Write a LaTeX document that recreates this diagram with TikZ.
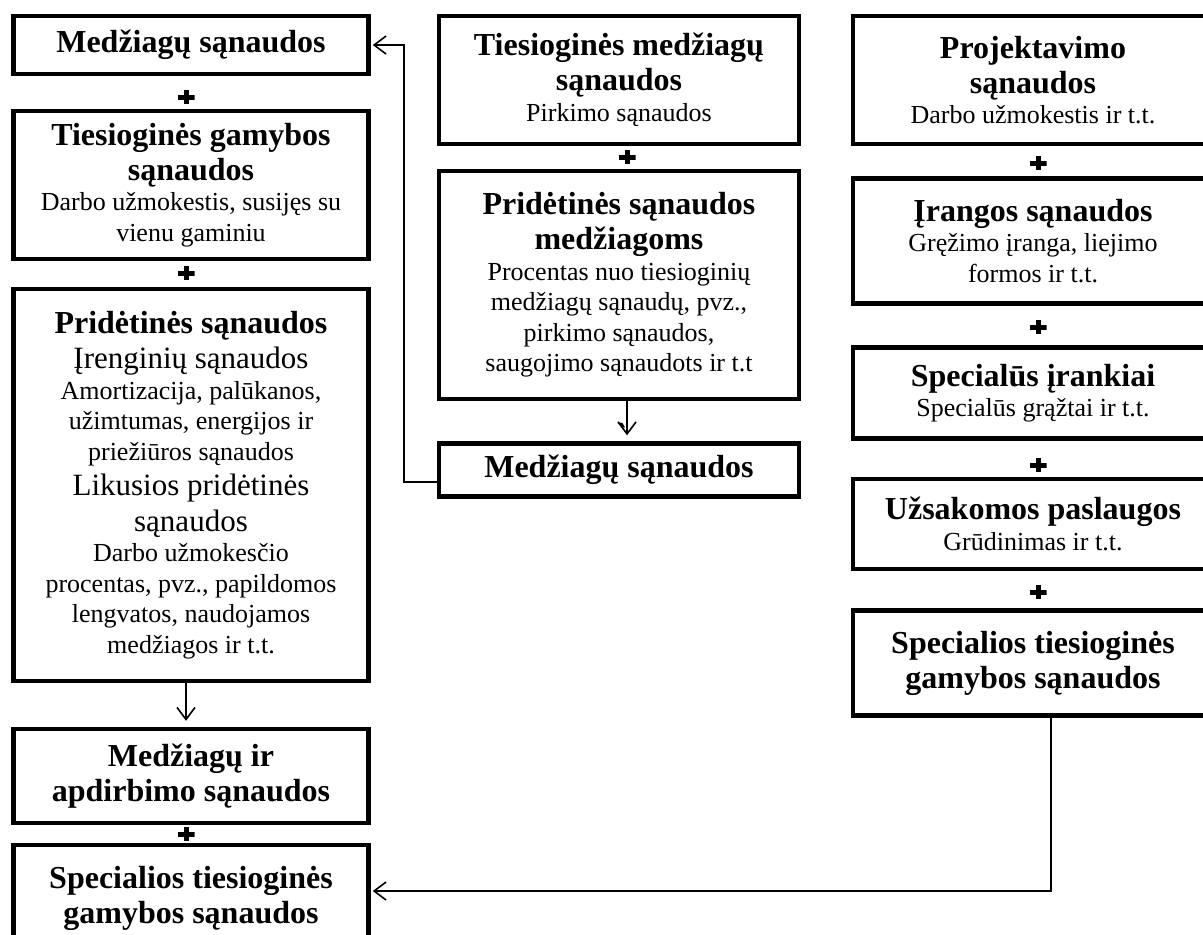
\documentclass[tikz,border=0pt]{standalone}
\usepackage{fontspec}
\setmainfont{Liberation Serif}
\usepackage{tikz}
\usetikzlibrary{arrows.meta, positioning}
\setlength{\parindent}{0pt}
\setlength{\parskip}{0pt}
\newcommand{\fixspace}{\spaceskip=\fontdimen2\font\xspaceskip=\fontdimen2\font\relax}
\newcommand{\boxhead}[1]{{\bfseries\fontsize{32}{35}\selectfont\fixspace #1\par}}
\newcommand{\boxmid}[1]{{\fontsize{31}{35.5}\selectfont\fixspace #1\par}}
\newcommand{\boxtext}[1]{{\fontsize{26}{30.5}\selectfont\fixspace #1\par}}

\begin{document}
\begin{tikzpicture}[x=1pt, y=-1pt,
  costbox/.style={draw=black, line width=4.5pt, fill=white, text width=340pt, align=center,
    minimum width=355pt, inner sep=0pt},
  plussign/.style={minimum width=17pt, minimum height=14pt, inner sep=0pt,
    path picture={\draw[line width=5pt] (path picture bounding box.north) -- (path picture bounding box.south)
      (path picture bounding box.west) -- (path picture bounding box.east);}},
  flow/.style={line width=1.6pt, -{Straight Barb[length=12pt, width=18pt, line width=1.6pt]}}]
  \useasboundingbox[fill=white] (0,0) rectangle (1203,935);

  % left column
  \node[costbox, minimum height=58pt] (matL) at (191,45) {\boxhead{Medžiagų sąnaudos}};
  \node[costbox, minimum height=148pt] (dirProd) at (191,185) {
    \boxhead{Tiesioginės gamybos\\ sąnaudos}
    \boxtext{Darbo užmokestis, susijęs su\\ vienu gaminiu}};
  \node[costbox, minimum height=392pt] (ovhProd) at (191,485) {
    \boxhead{Pridėtinės sąnaudos}
    \boxmid{Įrenginių sąnaudos}
    \boxtext{Amortizacija, palūkanos,\\ užimtumas, energijos ir\\ priežiūros sąnaudos}
    \boxmid{Likusios pridėtinės\\ sąnaudos}
    \boxtext{Darbo užmokesčio\\ procentas, pvz., papildomos\\ lengvatos, naudojamos\\ medžiagos ir t.t.}};
  \node[costbox, minimum height=94pt] (matProc) at (191,776) {\boxhead{Medžiagų ir\\ apdirbimo sąnaudos}};
  \node[costbox, minimum height=106pt] (specL) at (191,898) {\boxhead{Specialios tiesioginės\\ gamybos sąnaudos}};

  % middle column
  \node[costbox, minimum height=128pt, minimum width=360pt] (dirMat) at (619,80) {
    \boxhead{Tiesioginės medžiagų\\ sąnaudos}
    \boxtext{Pirkimo sąnaudos}};
  \node[costbox, minimum height=228pt, minimum width=360pt] (ovhMat) at (619,285) {
    \boxhead{Pridėtinės sąnaudos\\ medžiagoms}
    \boxtext{Procentas nuo tiesioginių\\ medžiagų sąnaudų, pvz.,\\ pirkimo sąnaudos,\\ saugojimo sąnaudots ir t.t}};
  \node[costbox, minimum height=53pt, minimum width=360pt] (matM) at (619,470) {\boxhead{Medžiagų sąnaudos}};
  \node[font=\bfseries\fontsize{32}{32}\selectfont, inner sep=0pt] (tick) at (622,434) {\textasciigrave};

  % right column
  \node[costbox, minimum height=128pt, minimum width=360pt] (design) at (1033,80) {
    \boxhead{Projektavimo\\ sąnaudos}
    \boxtext{Darbo užmokestis ir t.t.}};
  \node[costbox, minimum height=125pt, minimum width=360pt] (equip) at (1033,241) {
    \boxhead{Įrangos sąnaudos}
    \boxtext{Gręžimo įranga, liejimo\\ formos ir t.t.}};
  \node[costbox, minimum height=91pt, minimum width=360pt] (tools) at (1033,393) {
    \boxhead{Specialūs įrankiai}
    \boxtext{Specialūs grąžtai ir t.t.}};
  \node[costbox, minimum height=90pt, minimum width=360pt] (services) at (1033,524) {
    \boxhead{Užsakomos paslaugos}
    \boxtext{Grūdinimas ir t.t.}};
  \node[costbox, minimum height=105pt, minimum width=360pt] (specR) at (1033,663) {\boxhead{Specialios tiesioginės\\ gamybos sąnaudos}};

  % plus signs
  \node[plussign] (plusA) at (186,97) {};
  \node[plussign] (plusB) at (186,273) {};
  \node[plussign] (plusC) at (186,834) {};
  \node[plussign] (plusD) at (627,157) {};
  \node[plussign] (plusE) at (1038,163) {};
  \node[plussign] (plusF) at (1038,327) {};
  \node[plussign] (plusG) at (1038,465) {};
  \node[plussign] (plusH) at (1038,592) {};

  % connectors
  \draw[flow] ([xshift=-5pt]ovhProd.south) -- ([xshift=-5pt, yshift=6pt]matProc.north);
  \draw[flow] ([xshift=8pt]ovhMat.south) -- ([xshift=8pt, yshift=6pt]matM.north);
  \draw[flow] ([yshift=-12pt]matM.west) -- ++(-33,0) |- ([xshift=2pt]matL.east);
  \draw[flow] ([xshift=18pt]specR.south) |- ([xshift=2pt, yshift=7pt]specL.east);
\end{tikzpicture}
\end{document}
